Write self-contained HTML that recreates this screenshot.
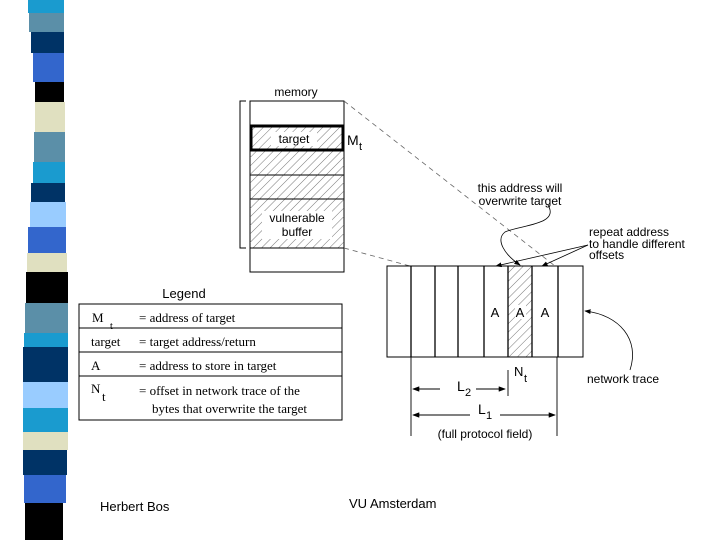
<!DOCTYPE html>
<html><head><style>body{margin:0;background:#fff}svg{display:block}</style></head><body>
<svg width="720" height="540" xmlns="http://www.w3.org/2000/svg" font-family="Liberation Sans, sans-serif">
<defs>
<pattern id="h" width="6" height="6" patternUnits="userSpaceOnUse" patternTransform="rotate(45)">
<line x1="0" y1="0" x2="0" y2="6" stroke="#555" stroke-width="0.8"/></pattern>
<marker id="ar" markerWidth="8" markerHeight="6" refX="7" refY="3" orient="auto"><path d="M0,0 L8,3 L0,6z" fill="#000"/></marker>
</defs>
<g>
<rect x="28" y="0" width="36" height="13" fill="#1a9bcf"/>
<rect x="29" y="13" width="35" height="19" fill="#5b8fa8"/>
<rect x="31" y="32" width="33" height="21" fill="#003366"/>
<rect x="33" y="53" width="31" height="29" fill="#3366cc"/>
<rect x="35" y="82" width="29" height="20" fill="#000"/>
<rect x="35" y="102" width="30" height="30" fill="#e0e0c0"/>
<rect x="34" y="132" width="31" height="30" fill="#5b8fa8"/>
<rect x="33" y="162" width="32" height="21" fill="#1a9bcf"/>
<rect x="31" y="183" width="34" height="19" fill="#003366"/>
<rect x="30" y="202" width="36" height="25" fill="#99ccff"/>
<rect x="28" y="227" width="38" height="26" fill="#3366cc"/>
<rect x="27" y="253" width="40" height="19" fill="#e0e0c0"/>
<rect x="26" y="272" width="42" height="31" fill="#000"/>
<rect x="25" y="303" width="43" height="30" fill="#5b8fa8"/>
<rect x="24" y="333" width="44" height="14" fill="#1a9bcf"/>
<rect x="23" y="347" width="45" height="35" fill="#003366"/>
<rect x="23" y="382" width="45" height="26" fill="#99ccff"/>
<rect x="23" y="408" width="45" height="24" fill="#1a9bcf"/>
<rect x="23" y="432" width="45" height="18" fill="#e0e0c0"/>
<rect x="23" y="450" width="44" height="25" fill="#003366"/>
<rect x="24" y="475" width="42" height="28" fill="#3366cc"/>
<rect x="25" y="503" width="38" height="37" fill="#000"/>
</g>
<!-- memory -->
<text x="296" y="96" font-size="12" text-anchor="middle">memory</text>
<path d="M246,101 H240 V248 H246" fill="none" stroke="#000"/>
<rect x="250" y="101" width="94" height="171" fill="#fff" stroke="#000"/>
<rect x="250" y="126" width="94" height="122" fill="url(#h)"/>
<line x1="250" y1="175" x2="344" y2="175" stroke="#000"/>
<line x1="250" y1="199" x2="344" y2="199" stroke="#000"/>
<line x1="250" y1="248" x2="344" y2="248" stroke="#000"/>
<rect x="251" y="126" width="92" height="24" fill="none" stroke="#000" stroke-width="3"/>
<rect x="271" y="132" width="46" height="14" fill="#fff"/>
<text x="294" y="143" font-size="12" text-anchor="middle">target</text>
<rect x="262" y="211" width="70" height="28" fill="#fff"/>
<text x="297" y="222" font-size="12" text-anchor="middle">vulnerable</text>
<text x="297" y="236" font-size="12" text-anchor="middle">buffer</text>
<text x="347" y="145" font-size="14">M</text><text x="359" y="150" font-size="11">t</text>
<line x1="344" y1="101" x2="555" y2="266" stroke="#666" stroke-dasharray="5,4" stroke-width="0.8"/>
<line x1="344" y1="248" x2="410" y2="266" stroke="#666" stroke-dasharray="5,4" stroke-width="0.8"/>
<!-- network -->
<rect x="508" y="266" width="24" height="91" fill="url(#h)"/>
<rect x="387" y="266" width="196" height="91" fill="none" stroke="#000"/>
<g stroke="#000" stroke-width="1.3">
<line x1="411" y1="266" x2="411" y2="357"/><line x1="435" y1="266" x2="435" y2="357"/>
<line x1="458" y1="266" x2="458" y2="357"/><line x1="484" y1="266" x2="484" y2="357"/>
<line x1="508" y1="266" x2="508" y2="357"/><line x1="532" y1="266" x2="532" y2="357"/>
<line x1="558" y1="266" x2="558" y2="357"/></g>
<rect x="515" y="305" width="11" height="14" fill="#fff"/>
<g font-size="13" text-anchor="middle"><text x="495" y="317">A</text><text x="520" y="317">A</text><text x="545" y="317">A</text></g>
<text x="520" y="192" font-size="12" text-anchor="middle">this address will</text>
<text x="520" y="205" font-size="12" text-anchor="middle">overwrite target</text>
<path d="M548,205 C560,225 520,225 505,232 C495,240 505,255 520,265" fill="none" stroke="#000" stroke-width="0.8" marker-end="url(#ar)"/>
<text x="589" y="236" font-size="12">repeat address</text>
<text x="589" y="248" font-size="12">to handle different</text>
<text x="589" y="259" font-size="12">offsets</text>
<line x1="588" y1="245" x2="496" y2="266" stroke="#000" stroke-width="0.8" marker-end="url(#ar)"/>
<line x1="588" y1="245" x2="542" y2="266" stroke="#000" stroke-width="0.8" marker-end="url(#ar)"/>
<text x="587" y="383" font-size="12">network trace</text>
<path d="M630,370 C640,340 620,315 585,311" fill="none" stroke="#000" stroke-width="0.8" marker-end="url(#ar)"/>
<g stroke="#000" stroke-width="0.9">
<line x1="411" y1="357" x2="411" y2="436"/><line x1="557" y1="357" x2="557" y2="436"/>
<line x1="508" y1="370" x2="508" y2="396"/>
<line x1="440" y1="389" x2="413" y2="389" marker-end="url(#ar)"/>
<line x1="476" y1="389" x2="505" y2="389" marker-end="url(#ar)"/>
<line x1="470" y1="415" x2="413" y2="415" marker-end="url(#ar)"/>
<line x1="500" y1="415" x2="555" y2="415" marker-end="url(#ar)"/>
</g>
<text x="457" y="391" font-size="14">L</text><text x="465" y="396" font-size="11">2</text>
<text x="478" y="414" font-size="14">L</text><text x="486" y="419" font-size="11">1</text>
<text x="514" y="376" font-size="13">N</text><text x="524" y="382" font-size="11">t</text>
<text x="485" y="438" font-size="12" text-anchor="middle">(full protocol field)</text>
<!-- legend -->
<text x="184" y="298" font-size="13" text-anchor="middle">Legend</text>
<rect x="79" y="304" width="263" height="116" fill="none" stroke="#000"/>
<g stroke="#000"><line x1="79" y1="328" x2="342" y2="328"/><line x1="79" y1="352" x2="342" y2="352"/><line x1="79" y1="376" x2="342" y2="376"/></g>
<g font-family="Liberation Serif, serif" font-size="13">
<text x="92" y="322">M</text><text x="110" y="329" font-size="10">t</text>
<text x="139" y="322">= address of target</text>
<text x="91" y="346">target</text><text x="139" y="346">= target address/return</text>
<text x="91" y="370">A</text><text x="139" y="370">= address to store in target</text>
<text x="91" y="393">N</text><text x="102" y="401">t</text>
<text x="139" y="395">= offset in network trace of the</text>
<text x="152" y="413">bytes that overwrite the target</text>
</g>
<text x="100" y="511" font-size="13">Herbert Bos</text>
<text x="349" y="508" font-size="13">VU Amsterdam</text>
</svg>
</body></html>
